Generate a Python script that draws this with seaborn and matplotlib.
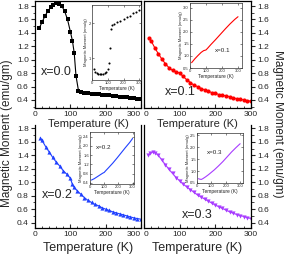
import numpy as np
import pandas as pd
import seaborn as sns
import matplotlib.pyplot as plt
from matplotlib.ticker import MultipleLocator

# main panels: temperature (K) and magnetic moment (emu/gm)
t_00 = [12, 20, 28, 36, 44, 52, 60, 68, 76, 84, 92, 100, 106, 111, 116, 123, 130, 140, 150, 160, 170,
        180, 190, 200, 210, 220, 230, 240, 250, 260, 270, 280, 290, 300]
m_00 = [1.47, 1.56, 1.65, 1.72, 1.78, 1.82, 1.84, 1.83, 1.80, 1.72, 1.60, 1.42, 1.28, 1.10, 0.76, 0.54, 0.52,
        0.51, 0.50, 0.495, 0.49, 0.485, 0.48, 0.475, 0.47, 0.46, 0.455, 0.45, 0.445, 0.44, 0.435, 0.43, 0.42, 0.415]

t_01 = [14, 20, 30, 40, 50, 60, 70, 80, 90, 100, 110, 120, 130, 140, 150, 160, 170, 180, 190, 200, 210,
        220, 230, 240, 250, 260, 270, 280, 290, 300]
m_01 = [1.32, 1.28, 1.18, 1.09, 1.01, 0.94, 0.88, 0.84, 0.82, 0.80, 0.75, 0.70, 0.66, 0.62, 0.60, 0.57,
        0.55, 0.53, 0.51, 0.50, 0.48, 0.47, 0.46, 0.45, 0.43, 0.42, 0.41, 0.40, 0.39, 0.38]

t_02 = [15, 20, 30, 40, 50, 60, 70, 80, 90, 100, 105, 110, 120, 130, 140, 150, 160, 170, 180, 190, 200,
        210, 220, 230, 240, 250, 260, 270, 280, 290, 300]
m_02 = [1.66, 1.62, 1.53, 1.45, 1.37, 1.30, 1.24, 1.17, 1.12, 1.06, 0.98, 0.93, 0.87, 0.82, 0.77, 0.73,
        0.70, 0.67, 0.65, 0.62, 0.60, 0.58, 0.56, 0.545, 0.53, 0.515, 0.50, 0.485, 0.47, 0.46, 0.45]

t_03 = [12, 18, 25, 30, 40, 50, 60, 70, 80, 90, 100, 110, 120, 130, 140, 150, 160, 170, 180, 190, 200,
        210, 220, 230, 240, 250, 260, 270, 280, 290, 300]
m_03 = [1.40, 1.43, 1.45, 1.44, 1.40, 1.33, 1.26, 1.19, 1.13, 1.07, 1.02, 0.97, 0.93, 0.89, 0.85, 0.81,
        0.78, 0.75, 0.72, 0.69, 0.66, 0.635, 0.61, 0.585, 0.56, 0.54, 0.52, 0.505, 0.49, 0.475, 0.46]

# insets
it_00 = [10, 20, 30, 40, 50, 60, 70, 80, 90, 100, 108, 114, 120, 128, 140, 160, 180, 200, 220, 240, 260, 280, 300]
im_00 = [0.68, 0.62, 0.58, 0.56, 0.55, 0.55, 0.56, 0.58, 0.62, 0.70, 0.86, 1.29, 1.83, 1.95, 1.99, 2.03,
         2.07, 2.12, 2.17, 2.22, 2.28, 2.33, 2.38]
it_01 = [10, 30, 50, 70, 85, 100, 110, 130, 160, 190, 220, 250, 280, 300]
im_01 = [0.72, 0.88, 1.02, 1.15, 1.22, 1.25, 1.32, 1.47, 1.68, 1.90, 2.12, 2.33, 2.52, 2.63]
it_02 = [10, 30, 50, 70, 90, 100, 110, 130, 160, 190, 220, 250, 280, 300]
im_02 = [0.52, 0.58, 0.66, 0.74, 0.82, 0.85, 0.92, 1.05, 1.25, 1.47, 1.70, 1.93, 2.15, 2.32]
it_03 = [10, 20, 30, 40, 60, 80, 100, 120, 150, 180, 210, 240, 270, 300]
im_03 = [0.68, 0.66, 0.65, 0.68, 0.76, 0.85, 0.95, 1.05, 1.22, 1.40, 1.60, 1.80, 1.98, 2.15]

temp_ticks = [0, 100, 200, 300]

sns.set_style("ticks")
plt.rcParams['font.family'] = ['Liberation Sans', 'DejaVu Sans']

W, H = 284, 257
fig = plt.figure(figsize=(W / 100, H / 100), dpi=100)


def rect(x0, y0, x1, y1):
    # pixel box -> figure fraction
    return [x0 / W, 1 - y1 / H, (x1 - x0) / W, (y1 - y0) / H]


def main_panel(box, t, m, color, marker, label, label_xy, ylim, right=False, top=True,
               xl_size=8, xl_pad=1):
    ax = fig.add_axes(rect(*box))
    ax.patch.set_alpha(0)
    sns.lineplot(x=t, y=m, ax=ax, color=color, marker=marker, markersize=3,
                 markeredgewidth=0, linewidth=0.8)
    ax.set_xlim(0, 300)
    ax.set_ylim(*ylim)
    ax.set_xticks(temp_ticks)
    ax.xaxis.set_minor_locator(MultipleLocator(20))
    ax.yaxis.set_major_locator(MultipleLocator(0.2))
    ax.yaxis.set_minor_locator(MultipleLocator(0.1))
    ax.tick_params(axis='x', which='both', direction='in', top=False, labelsize=6, pad=2)
    ax.tick_params(axis='x', which='major', length=3, width=0.8)
    ax.tick_params(axis='x', which='minor', length=1.8, width=0.6)
    ax.tick_params(axis='y', which='major', length=3, width=0.8, labelsize=6, pad=1.5)
    ax.tick_params(axis='y', which='minor', length=1.8, width=0.6)
    if right:
        ax.yaxis.tick_right()
        ax.yaxis.set_tick_params(which='both', right=True, left=False)
    for s in ax.spines.values():
        s.set_linewidth(0.9)
        s.set_color('black')
    ax.spines['top'].set_visible(top)
    ax.set_xlabel('Temperature (K)', fontsize=xl_size, labelpad=xl_pad)
    ax.set_ylabel('')
    ax.text(label_xy[0], label_xy[1], label, fontsize=9, ha='center', va='center')
    # keep the touching "300" / "0" labels apart, as in the figure
    labels = ax.get_xticklabels()
    if right:
        labels[0].set_horizontalalignment('left')
    else:
        labels[-1].set_horizontalalignment('right')
    return ax


def inset(box, t, m, color, marker, xlim, ylim, yticks, label=None, label_xy=None):
    ax = fig.add_axes(rect(*box))
    sns.lineplot(x=t, y=m, ax=ax, color=color, marker=marker, markersize=1.5,
                 markeredgewidth=0, linewidth=0.8 if marker is None else 0)
    ax.set_xlim(*xlim)
    ax.set_ylim(*ylim)
    ax.set_xticks(temp_ticks)
    ax.set_yticks(yticks)
    ax.tick_params(which='both', labelsize=3, length=1.2, width=0.4, pad=0.8, direction='in',
                   top=True, right=True)
    for s in ax.spines.values():
        s.set_linewidth(0.5)
        s.set_color('#333333')
    ax.set_xlabel('Temperature (K)', fontsize=3.5, labelpad=0.5)
    ax.set_ylabel('Magnetic Moment (emu/g)', fontsize=3, labelpad=0.5)
    ax.set_facecolor('white')
    if label:
        ax.text(label_xy[0], label_xy[1], label, fontsize=4.5, transform=ax.transAxes,
                ha='center', va='center')
    return ax


main_panel((35, 1, 141, 108), t_00, m_00, 'black', 's', 'x=0.0', (60, 0.82), (0.28, 1.875))
main_panel((144, 1, 251, 108), t_01, m_01, '#ff0000', 'o', 'x=0.1', (102, 0.52), (0.28, 1.875), right=True)
main_panel((35, 125, 141, 228), t_02, m_02, '#2040ff', '^', 'x=0.2', (63, 0.81), (0.32, 1.85), top=False,
           xl_size=9, xl_pad=3)
main_panel((144, 125, 251, 228), t_03, m_03, '#a83cff', 'v', 'x=0.3', (148, 0.51), (0.32, 1.85),
           right=True, top=False, xl_size=9, xl_pad=3)

inset((92, 5, 141, 80), it_00, im_00, 'black', 'o', (0, 310), (0.38, 2.52), [1, 2])
inset((190, 3, 242, 68), it_01, im_01, '#ff0000', None, (0, 325), (0.5, 3.2),
      [0.5, 1.0, 1.5, 2.0, 2.5, 3.0], 'x=0.1', (0.62, 0.27))
inset((90, 132, 134, 184), it_02, im_02, '#2040ff', None, (0, 310), (0.35, 2.6),
      [0.4, 0.8, 1.2, 1.6, 2.0, 2.4], 'x=0.2', (0.3, 0.7))
inset((197, 133, 243, 183), it_03, im_03, '#a83cff', None, (0, 320), (0.5, 2.6),
      [0.5, 1.0, 1.5, 2.0, 2.5], 'x=0.3', (0.38, 0.6))

fig.text(7 / W, 1 - 133 / H, 'Magnetic Moment (emu/gm)', rotation=90, fontsize=8.5,
         ha='center', va='center')
fig.text(278 / W, 1 - 124 / H, 'Magnetic Moment (emu/gm)', rotation=-90, fontsize=8.5,
         ha='center', va='center')

fig.savefig('out.png', dpi=100)
